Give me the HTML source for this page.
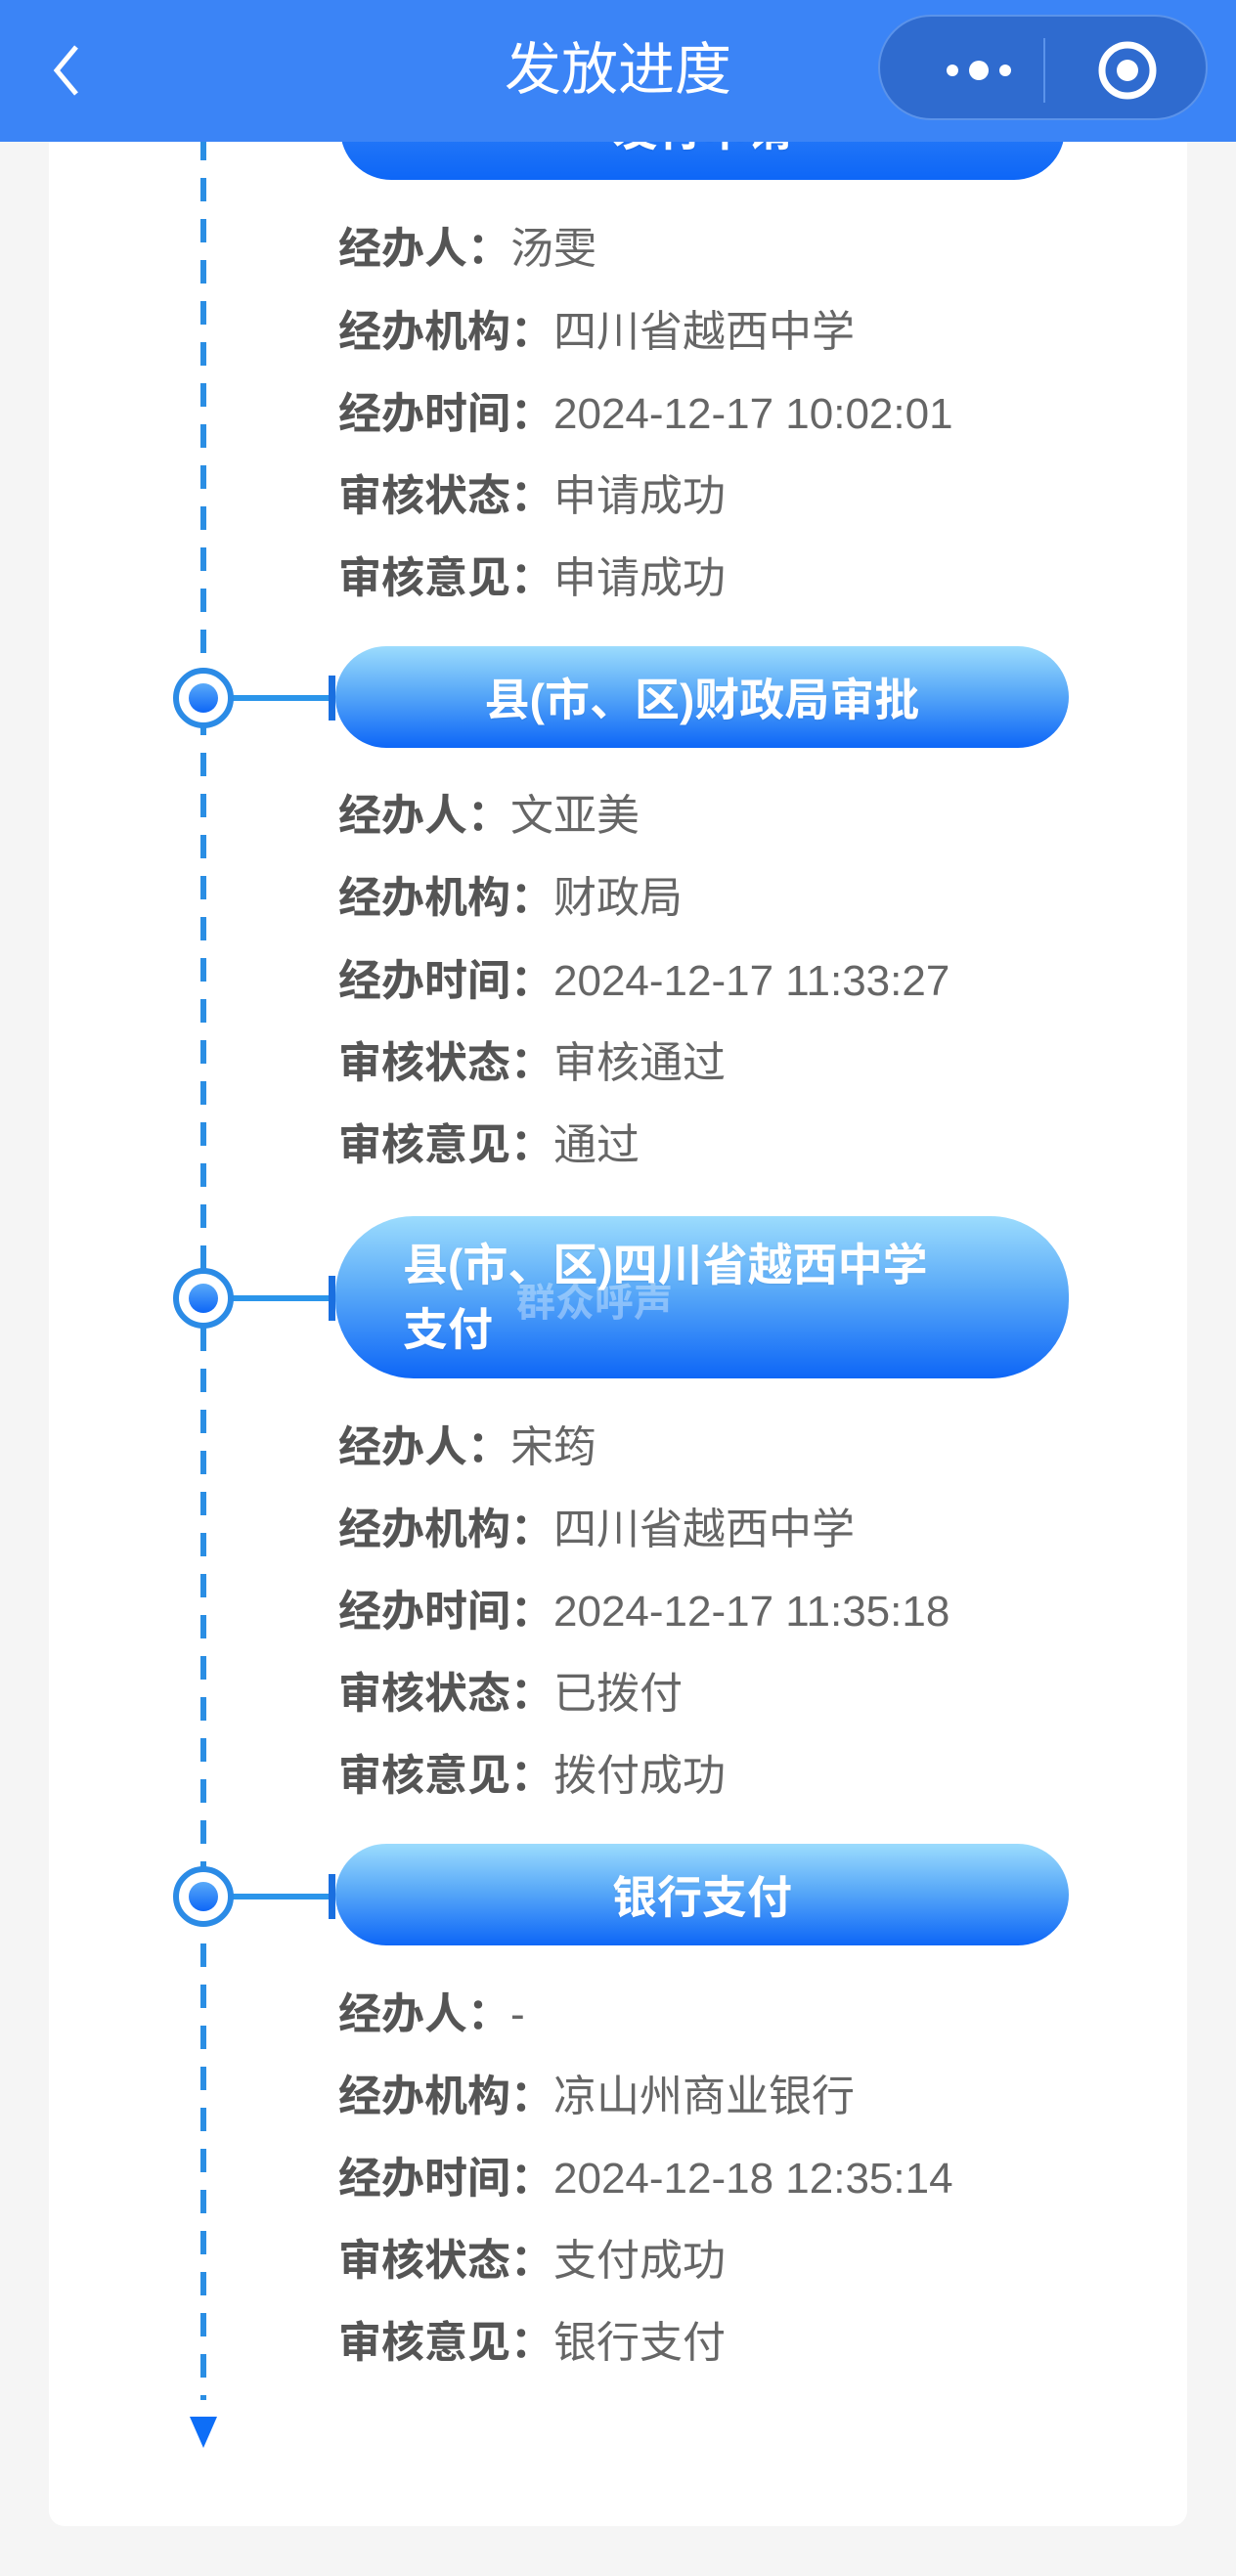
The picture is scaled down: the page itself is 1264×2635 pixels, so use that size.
<!DOCTYPE html>
<html><head><meta charset="utf-8">
<style>
*{margin:0;padding:0;box-sizing:border-box}
body{width:1264px;height:2635px;background:#f5f5f5;position:relative;overflow:hidden;font-family:"Liberation Sans","Noto Sans CJK SC",sans-serif}
.card{position:absolute;left:50px;top:100px;width:1164px;height:2484px;background:#fff;border-radius:16px}
.hdr{position:absolute;left:0;top:0;width:1264px;height:145px;background:#3b84f6;z-index:5}
.title{position:absolute;left:0;width:1264px;top:36px;text-align:center;color:#fff;font-size:58px;line-height:72px}
.cap{position:absolute;left:898px;top:15px;width:337px;height:108px;border-radius:54px;background:#2f6bcf;border:2px solid #5b93ea}
.line{position:absolute;left:205px;top:140px;width:6px;height:2340px;background:repeating-linear-gradient(to bottom,#2a8ee4 0 24px,transparent 24px 42px)}
.pill{position:absolute;left:343px;width:750px;border-radius:52px;background:linear-gradient(#9cdcfd,#5aaaf8 45%,#0d66f7);color:#fff;font-weight:bold;font-size:46px;display:flex;align-items:center;justify-content:center;text-shadow:0 1px 2px rgba(0,0,0,.08)}
.node{position:absolute;left:177px;width:62px;height:62px;border-radius:50%;background:#fff;border:6px solid #2b8be6}
.node:after{content:"";position:absolute;left:10px;top:10px;width:30px;height:30px;border-radius:50%;background:linear-gradient(#5aaaf8,#0d66f7)}
.conn{position:absolute;left:238px;width:100px;height:6px;background:#2b95ea}
.bar{position:absolute;left:336px;width:7px;height:46px;background:#1a6fe0}
.row{position:absolute;left:346px;font-size:44px;line-height:50px;color:#666;white-space:nowrap}
.row b{color:#555}
</style></head><body>
<div class="card"></div>
<div class="line"></div>
<div class="pill" style="top:80px;height:104px;border-radius:0 0 52px 52px;left:348px;width:741px;background:linear-gradient(#3f8cf8,#0d66f7)"><span style="position:relative;top:-2px">发行申请</span></div>
<div class="hdr">
 <svg style="position:absolute;left:52px;top:44px" width="30" height="56"><polyline points="26,4 6,28 26,52" fill="none" stroke="#fff" stroke-width="5"/></svg>
 <div class="title">发放进度</div>
 <div class="cap">
  <svg style="position:absolute;left:0;top:0" width="337" height="108">
   <circle cx="74" cy="55" r="6" fill="#fff"/><circle cx="101" cy="55" r="10" fill="#fff"/><circle cx="128" cy="55" r="6" fill="#fff"/>
   <line x1="168" y1="22" x2="168" y2="88" stroke="#5b93ea" stroke-width="2"/>
   <circle cx="253" cy="55" r="26" fill="none" stroke="#fff" stroke-width="7"/><circle cx="253" cy="55" r="11" fill="#fff"/>
  </svg>
 </div>
</div>

<div class="row" style="top:230px"><b>经办人：</b>汤雯</div>
<div class="row" style="top:315px"><b>经办机构：</b>四川省越西中学</div>
<div class="row" style="top:399px"><b>经办时间：</b>2024-12-17 10:02:01</div>
<div class="row" style="top:483px"><b>审核状态：</b>申请成功</div>
<div class="row" style="top:567px"><b>审核意见：</b>申请成功</div>

<div class="conn" style="top:711px"></div><div class="bar" style="top:691px"></div>
<div class="node" style="top:683px"></div>
<div class="pill" style="top:661px;height:104px">县(市、区)财政局审批</div>
<div class="row" style="top:810px"><b>经办人：</b>文亚美</div>
<div class="row" style="top:894px"><b>经办机构：</b>财政局</div>
<div class="row" style="top:979px"><b>经办时间：</b>2024-12-17 11:33:27</div>
<div class="row" style="top:1063px"><b>审核状态：</b>审核通过</div>
<div class="row" style="top:1147px"><b>审核意见：</b>通过</div>

<div class="conn" style="top:1325px"></div><div class="bar" style="top:1305px"></div>
<div class="node" style="top:1297px"></div>
<div class="pill" style="top:1244px;height:166px;justify-content:flex-start;padding-left:69px;line-height:66px;border-radius:80px">县(市、区)四川省越西中学<br>支付</div>
<div style="position:absolute;left:528px;top:1300px;color:rgba(255,255,255,.35);font-size:40px;font-weight:bold">群众呼声</div>
<div class="row" style="top:1456px"><b>经办人：</b>宋筠</div>
<div class="row" style="top:1540px"><b>经办机构：</b>四川省越西中学</div>
<div class="row" style="top:1624px"><b>经办时间：</b>2024-12-17 11:35:18</div>
<div class="row" style="top:1708px"><b>审核状态：</b>已拨付</div>
<div class="row" style="top:1792px"><b>审核意见：</b>拨付成功</div>

<div class="conn" style="top:1937px"></div><div class="bar" style="top:1917px"></div>
<div class="node" style="top:1909px"></div>
<div class="pill" style="top:1886px;height:104px">银行支付</div>
<div class="row" style="top:2036px"><b>经办人：</b>-</div>
<div class="row" style="top:2120px"><b>经办机构：</b>凉山州商业银行</div>
<div class="row" style="top:2204px"><b>经办时间：</b>2024-12-18 12:35:14</div>
<div class="row" style="top:2288px"><b>审核状态：</b>支付成功</div>
<div class="row" style="top:2372px"><b>审核意见：</b>银行支付</div>

<div style="position:absolute;left:194px;top:2472px;width:0;height:0;border-left:14px solid transparent;border-right:14px solid transparent;border-top:32px solid #0d6ef7;background:#fff"></div>
<div style="position:absolute;left:205px;top:2455px;width:6px;height:17px;background:#fff"></div>
</body></html>
